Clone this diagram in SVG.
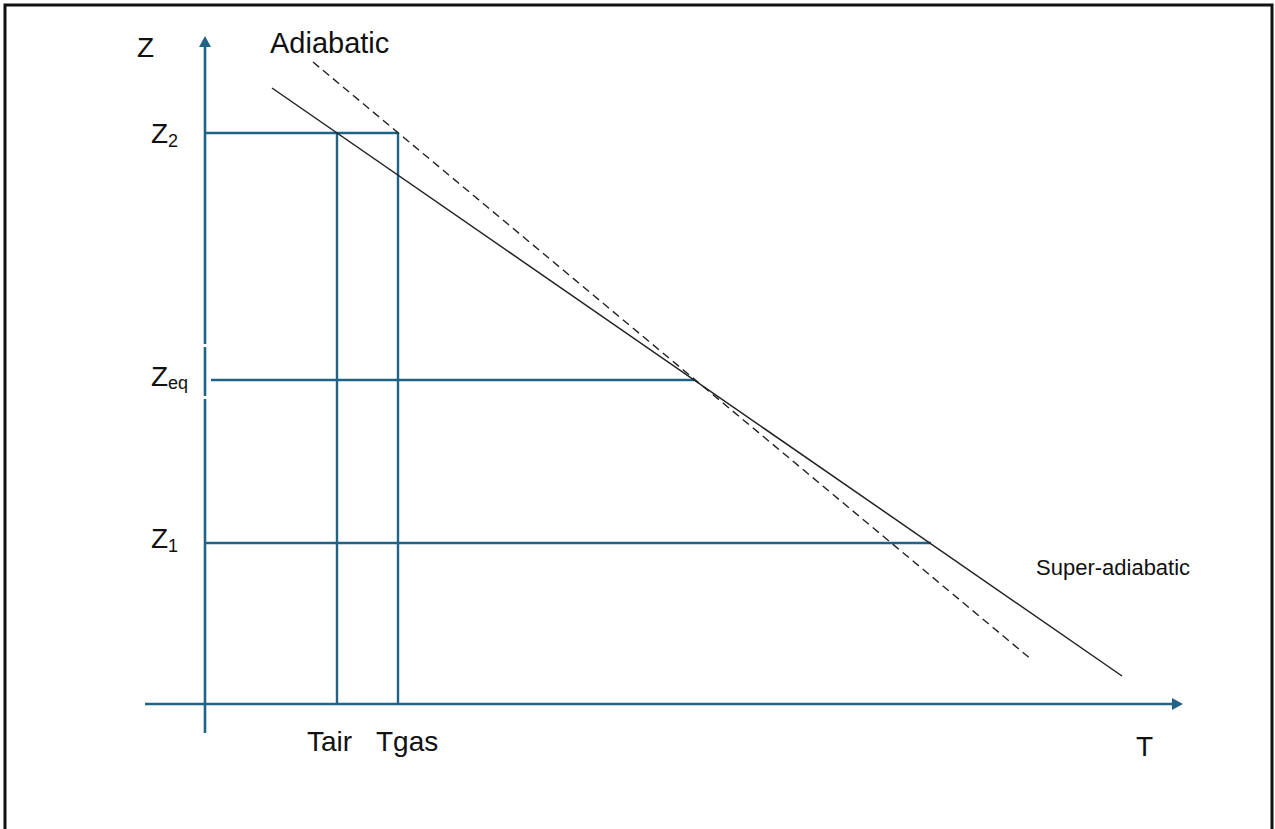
<svg xmlns="http://www.w3.org/2000/svg" width="1275" height="829" viewBox="0 0 1275 829">
  <style>
    .ax { stroke: #1f6387; stroke-width: 2.6; fill: none; }
    .ln { stroke: #1f6387; stroke-width: 2.4; fill: none; }
    .curve { stroke: #222; stroke-width: 1.5; fill: none; }
    .dash { stroke: #222; stroke-width: 1.4; fill: none; stroke-dasharray: 8 5; }
    .lbl { font-family: "Liberation Sans", Arial, sans-serif; fill: #111; }
  </style>
  <defs>
    <marker id="arr" markerWidth="11" markerHeight="12" refX="0" refY="6" orient="auto" markerUnits="userSpaceOnUse">
      <path d="M0,0 L11,6 L0,12 Z" fill="#1f6387"/>
    </marker>
  </defs>
  <rect width="1275" height="829" fill="#fff"/>
  <path d="M5,835 V5 H1272 V835" fill="none" stroke="#111" stroke-width="3"/>

  <g id="connectors">
    <!-- Y axis with small breaks -->
    <line class="ax" x1="205" y1="733" x2="205" y2="399"/>
    <line class="ax" x1="205" y1="396" x2="205" y2="347"/>
    <line class="ax" x1="205" y1="344" x2="205" y2="47" marker-end="url(#arr)"/>
    <!-- X axis -->
    <line class="ax" x1="145" y1="704" x2="1172" y2="704" marker-end="url(#arr)"/>
    <!-- level lines -->
    <line class="ln" x1="205" y1="133" x2="398" y2="133"/>
    <line class="ln" x1="211" y1="380" x2="694" y2="380"/>
    <line class="ln" x1="205" y1="543" x2="931" y2="543"/>
    <!-- temperature verticals -->
    <line class="ln" x1="337" y1="133" x2="337" y2="704"/>
    <line class="ln" x1="398" y1="133" x2="398" y2="704"/>
    <!-- profiles -->
    <line class="curve" x1="272" y1="88" x2="1122" y2="676"/>
    <line class="dash" x1="313" y1="62" x2="1032" y2="660"/>
  </g>

  <g id="labels">
    <text class="lbl" x="137" y="57" font-size="28">Z</text>
    <text class="lbl" x="270" y="53" font-size="29">Adiabatic</text>
    <g id="z2"><text class="lbl" x="151" y="143" font-size="28">Z<tspan font-size="18" dy="4">2</tspan></text></g>
    <g id="zeq"><text class="lbl" x="151" y="386" font-size="28">Z<tspan font-size="18" dy="3">eq</tspan></text></g>
    <g id="z1"><text class="lbl" x="151" y="548" font-size="28">Z<tspan font-size="18" dy="4">1</tspan></text></g>
    <text class="lbl" x="307" y="751" font-size="28">Tair</text>
    <text class="lbl" x="376" y="751" font-size="28">Tgas</text>
    <text class="lbl" x="1136" y="756" font-size="28">T</text>
    <text class="lbl" x="1036" y="575" font-size="22">Super-adiabatic</text>
  </g>
</svg>
